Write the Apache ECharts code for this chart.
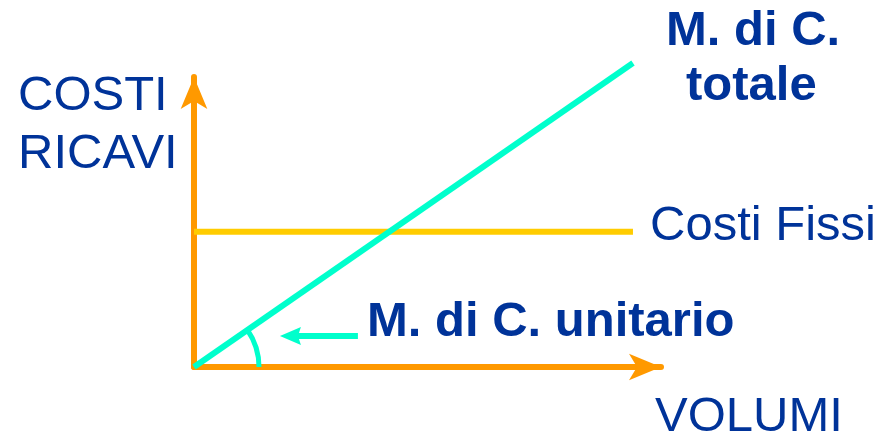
<!DOCTYPE html>
<html>
<head>
<meta charset="utf-8">
<script src="https://cdn.jsdelivr.net/npm/echarts@6/dist/echarts.min.js"></script>
<style>
  html, body { margin: 0; padding: 0; background: #fff; }
  #chart { width: 883px; height: 438px; }
</style>
</head>
<body>
<div id="chart"></div>
<script>
// volumi (asse x) e costi/ricavi (asse y), scala 0-100
const volumi = [0, 94];
const margineTotale = [0, 104.8];
const costiFissi = [46.6, 46.6];
// freccia che indica il margine unitario
const frecciaX = [35.1, 18.4];
const frecciaY = [10.7, 10.7];

const blu = '#003399';
const arancio = '#ff9900';
const ciano = '#00ffcc';
const giallo = '#ffcc00';
const font = '"Liberation Sans", Arial, sans-serif';

const chart = echarts.init(document.getElementById('chart'));

function testo(str, x, y, bold) {
  return {
    type: 'text',
    style: {
      text: str,
      x: x,
      y: y,
      fill: blu,
      font: (bold ? 'bold ' : '') + '49px ' + font,
      textAlign: 'left',
      textVerticalAlign: 'middle'
    }
  };
}

const asse = {
  type: 'value',
  min: 0,
  max: 100,
  splitLine: { show: false },
  axisTick: { show: false },
  axisLabel: { show: false },
  axisLine: {
    show: true,
    symbol: ['none', 'arrow'],
    symbolSize: [20, 32],
    lineStyle: { color: arancio, width: 6, cap: 'round' }
  }
};

chart.setOption({
  animation: false,
  grid: { left: 194, right: 222, top: 77, bottom: 71 },
  xAxis: asse,
  yAxis: asse,
  series: [
    {
      name: 'Costi Fissi',
      type: 'line',
      data: volumi.map((v, i) => [v, costiFissi[i]]),
      symbol: 'none',
      lineStyle: { color: giallo, width: 6 },
      z: 3
    },
    {
      name: 'M. di C. totale',
      type: 'line',
      clip: false,
      data: volumi.map((v, i) => [v, margineTotale[i]]),
      symbol: 'none',
      lineStyle: { color: ciano, width: 6 },
      z: 4
    },
    {
      // arco dell'angolo (margine unitario)
      type: 'custom',
      data: [[volumi[0], margineTotale[0]]],
      z: 4,
      renderItem: function (params, api) {
        const o = api.coord([volumi[0], margineTotale[0]]);
        const e = api.coord([volumi[1], margineTotale[1]]);
        const ang = Math.atan2(e[1] - o[1], e[0] - o[0]);
        return {
          type: 'arc',
          shape: { cx: o[0], cy: o[1], r: 65, startAngle: ang, endAngle: 0, clockwise: true },
          style: { stroke: ciano, lineWidth: 5, fill: null }
        };
      }
    },
    {
      // freccia verso l'angolo
      type: 'custom',
      data: [[frecciaX[0], frecciaY[0]]],
      z: 4,
      renderItem: function (params, api) {
        const a = api.coord([frecciaX[0], frecciaY[0]]);
        const b = api.coord([frecciaX[1], frecciaY[1]]);
        return {
          type: 'group',
          children: [
            {
              type: 'line',
              shape: { x1: a[0], y1: a[1], x2: b[0] + 18, y2: b[1] },
              style: { stroke: ciano, lineWidth: 6 }
            },
            {
              type: 'polygon',
              shape: { points: [[b[0], b[1]], [b[0] + 21, b[1] - 9], [b[0] + 18, b[1]], [b[0] + 21, b[1] + 9]] },
              style: { fill: ciano }
            }
          ]
        };
      }
    }
  ],
  graphic: [
    testo('COSTI', 18, 96, false),
    testo('RICAVI', 18, 154, false),
    testo('Costi Fissi', 650, 226, false),
    testo('M. di C.', 666, 31, true),
    testo('totale', 686, 86, true),
    testo('M. di C. unitario', 367, 322, true),
    testo('VOLUMI', 655, 417, false)
  ]
});
</script>
</body>
</html>
